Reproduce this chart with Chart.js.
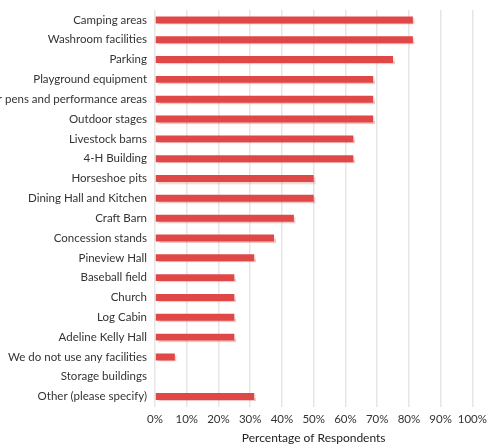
<!DOCTYPE html>
<html>
<head>
<meta charset="utf-8">
<script src="https://cdn.jsdelivr.net/npm/chart.js@4"></script>
<style>
  html, body { margin: 0; padding: 0; background: #fff; }
  #wrap { width: 494px; height: 445px; }
</style>
</head>
<body>
<div id="wrap"><canvas id="myChart"></canvas></div>
<script>
var categories = [
  "Camping areas",
  "Washroom facilities",
  "Parking",
  "Playground equipment",
  "Outdoor pens and performance areas",
  "Outdoor stages",
  "Livestock barns",
  "4-H Building",
  "Horseshoe pits",
  "Dining Hall and Kitchen",
  "Craft Barn",
  "Concession stands",
  "Pineview Hall",
  "Baseball field",
  "Church",
  "Log Cabin",
  "Adeline Kelly Hall",
  "We do not use any facilities",
  "Storage buildings",
  "Other (please specify)",
];
var respondents = [81.25, 81.25, 75, 68.75, 68.75, 68.75, 62.5, 62.5, 50, 50, 43.75, 37.5, 31.25, 25, 25, 25, 25, 6.25, 0, 31.25];
var xTicks = [0, 10, 20, 30, 40, 50, 60, 70, 80, 90, 100];

// soft shadow under the bars
var barShadow = {
  id: "barShadow",
  beforeDatasetDraw: function (chart) {
    var ctx = chart.ctx;
    ctx.save();
    ctx.shadowColor = "rgba(200, 70, 70, 0.3)";
    ctx.shadowOffsetX = 2;
    ctx.shadowOffsetY = 2;
    ctx.shadowBlur = 1.5;
  },
  afterDatasetDraw: function (chart) {
    chart.ctx.restore();
  },
};

var ctx = document.getElementById("myChart").getContext("2d");
var myChart = new Chart(ctx, {
  type: "bar",
  data: {
    labels: categories,
    datasets: [
      {
        label: "Percentage of Respondents",
        data: respondents,
        backgroundColor: "#e04848",
        borderWidth: 0,
        barPercentage: 0.35,
        categoryPercentage: 1,
      },
    ],
  },
  plugins: [barShadow],
  options: {
    indexAxis: "y",
    responsive: true,
    maintainAspectRatio: false,
    animation: false,
    layout: {
      padding: { left: 0, right: 19, top: 10, bottom: 0 },
    },
    plugins: {
      legend: { display: false },
      tooltip: { enabled: false },
    },
    scales: {
      x: {
        min: 0,
        max: 100,
        afterBuildTicks: function (scale) {
          scale.ticks = xTicks.map((v) => ({ value: v }));
        },
        grid: { color: "#e6e6e6", lineWidth: 1.5, drawTicks: false },
        border: { display: false },
        ticks: {
          padding: 7,
          autoSkip: false,
          maxRotation: 0,
          minRotation: 0,
          color: "#333",
          font: { family: "Lato", size: 11.5, lineHeight: 1 },
          callback: (v) => v + "%",
        },
        title: {
          display: true,
          text: "Percentage of Respondents",
          color: "#222",
          font: { family: "Lato", size: 12, lineHeight: 1 },
          padding: { top: 0, bottom: 1 },
        },
      },
      y: {
        grid: { display: false, drawTicks: false },
        border: { display: false },
        afterFit: function (scale) {
          scale.width = 155;
          scale.paddingTop = 0;
          scale.paddingBottom = 0;
        },
        ticks: {
          padding: 8,
          autoSkip: false,
          color: "#333",
          font: { family: "Lato", size: 11.5 },
        },
      },
    },
  },
});
</script>
</body>
</html>
